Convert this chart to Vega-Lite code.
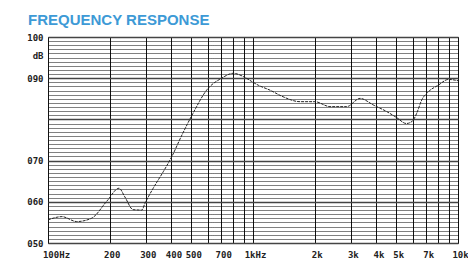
{
  "$schema": "https://vega.github.io/schema/vega-lite/v6.json",
  "width": 410,
  "height": 206,
  "autosize": {"type": "none"},
  "padding": {"left": 48, "top": 37, "right": 10, "bottom": 18},
  "background": "white",
  "title": {
    "text": "FREQUENCY RESPONSE",
    "anchor": "start",
    "frame": "group",
    "font": "Liberation Sans",
    "fontSize": 15,
    "fontWeight": "bold",
    "color": "#3d9ad6",
    "dx": -20,
    "offset": 5
  },
  "config": {
    "view": {"stroke": "#222", "strokeWidth": 1},
    "axis": {
      "labelFont": "DejaVu Sans Mono",
      "labelFontWeight": "bold",
      "labelFontSize": 9,
      "labelColor": "#222",
      "domain": false,
      "ticks": false,
      "title": null
    }
  },
  "data": {
    "values": [
      {"f": 100, "db": 55.6},
      {"f": 117, "db": 56.4},
      {"f": 138, "db": 55.2},
      {"f": 163, "db": 56.0},
      {"f": 194, "db": 60.2},
      {"f": 222, "db": 63.3},
      {"f": 237, "db": 61.2},
      {"f": 260, "db": 58.1},
      {"f": 287, "db": 58.0},
      {"f": 297, "db": 59.6},
      {"f": 326, "db": 63.3},
      {"f": 365, "db": 67.3},
      {"f": 401, "db": 70.9},
      {"f": 450, "db": 76.2},
      {"f": 510, "db": 81.5},
      {"f": 594, "db": 87.1},
      {"f": 703, "db": 90.0},
      {"f": 801, "db": 91.2},
      {"f": 897, "db": 90.4},
      {"f": 986, "db": 89.2},
      {"f": 1061, "db": 88.3},
      {"f": 1210, "db": 87.1},
      {"f": 1401, "db": 85.5},
      {"f": 1695, "db": 84.3},
      {"f": 2005, "db": 84.3},
      {"f": 2374, "db": 83.1},
      {"f": 2864, "db": 83.1},
      {"f": 3327, "db": 85.1},
      {"f": 3863, "db": 83.5},
      {"f": 4490, "db": 81.9},
      {"f": 5000, "db": 80.5},
      {"f": 5600, "db": 79.0},
      {"f": 6000, "db": 79.6},
      {"f": 6290, "db": 81.5},
      {"f": 6653, "db": 84.7},
      {"f": 7165, "db": 86.7},
      {"f": 8013, "db": 88.3},
      {"f": 8975, "db": 89.7},
      {"f": 10000, "db": 89.4}
    ]
  },
  "encoding": {
    "x": {
      "field": "f",
      "type": "quantitative",
      "scale": {"type": "log", "domain": [100, 10000], "nice": false},
      "axis": {
        "values": [100, 200, 300, 400, 500, 600, 700, 800, 900, 1000, 2000, 3000, 4000, 5000, 6000, 7000, 8000, 9000, 10000],
        "labelExpr": "datum.value == 100 ? '100Hz' : datum.value == 1000 ? '1kHz' : (datum.value == 600 || datum.value == 800 || datum.value == 900 || datum.value == 6000 || datum.value == 8000 || datum.value == 9000) ? '' : datum.value < 1000 ? '' + datum.value : (datum.value / 1000) + 'k'",
        "labelPadding": 7,
        "labelOffset": {"condition": {"test": "datum.value == 100", "value": 8}, "value": 2},
        "labelFlush": false,
        "labelOverlap": false,
        "grid": true,
        "gridColor": "#111",
        "gridWidth": 1,
        "gridOpacity": 1,
        "zindex": 0
      }
    }
  },
  "layer": [
    {
      "mark": {"type": "line", "interpolate": "monotone", "strokeOpacity": 0, "clip": true},
      "encoding": {
        "y": {
          "field": "db",
          "type": "quantitative",
          "scale": {"domain": [50, 100], "nice": false, "zero": false},
          "axis": {
            "orient": "right",
            "values": [51, 52, 53, 54, 55, 56, 57, 58, 59, 61, 62, 63, 64, 65, 66, 67, 68, 69, 71, 72, 73, 74, 75, 76, 77, 78, 79, 81, 82, 83, 84, 85, 86, 87, 88, 89, 91, 92, 93, 94, 95, 96, 97, 98, 99],
            "labels": false,
            "grid": true,
            "gridColor": "#000",
            "gridDash": [1, 1],
            "gridWidth": 1,
            "gridOpacity": 1
          }
        }
      }
    },
    {
      "mark": {"type": "line", "interpolate": "monotone", "color": "#222", "strokeWidth": 1, "strokeDash": [3, 1], "clip": true},
      "encoding": {
        "y": {
          "field": "db",
          "type": "quantitative",
          "scale": {"domain": [50, 100], "nice": false, "zero": false},
          "axis": {
            "orient": "left",
            "values": [50, 60, 70, 80, 90, 100],
            "labelExpr": "datum.value == 100 ? '100' : datum.value == 80 ? '' : '0' + datum.value",
            "labelPadding": 5,
            "labelOverlap": false,
            "labelFlush": false,
            "grid": true,
            "gridColor": "#444",
            "gridWidth": 1.5,
            "gridOpacity": 1,
            "title": "dB",
            "titleAngle": 0,
            "titleAlign": "right",
            "titleBaseline": "middle",
            "titleX": -5,
            "titleY": 18,
            "titleFont": "DejaVu Sans Mono",
            "titleFontWeight": "bold",
            "titleFontSize": 9,
            "titleColor": "#222"
          }
        }
      }
    }
  ],
  "resolve": {"axis": {"y": "independent"}}
}
